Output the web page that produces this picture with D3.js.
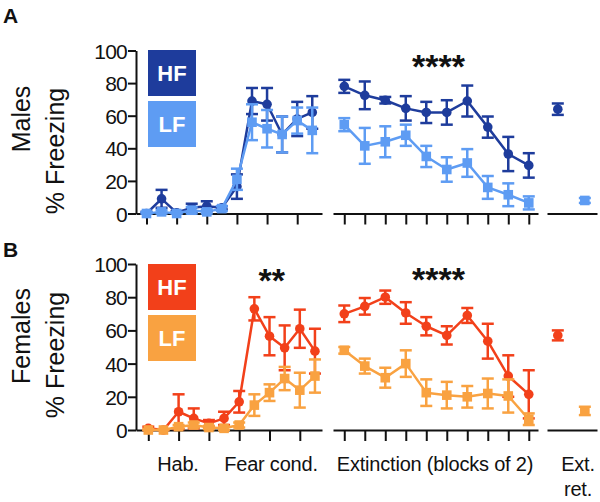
<!DOCTYPE html>
<html><head><meta charset="utf-8">
<script src="https://cdn.jsdelivr.net/npm/d3@7"></script>
<style>
html,body{margin:0;padding:0;background:#fff;}
text{font-family:"Liberation Sans",Arial,sans-serif;}
</style></head>
<body><div id="chart"></div>
<script>
// ---------- data ----------
const yTicks = [0, 20, 40, 60, 80, 100];
const phaseLabels = ["Hab.", "Fear cond.", "Extinction (blocks of 2)", "Ext.", "ret."];
const groups = ["HF", "LF"];
const rowLabels = ["Males", "Females"];
const panelLetters = ["A", "B"];
const stars = [["", "****"], ["**", "****"]];

// Males: habituation + fear conditioning (12 trials)
const maleHF_cond     = [0, 9, 0.5, 3.5, 4.5, 3.5, 16.5, 69, 67, 48.5, 58, 62];
const maleHF_condErr  = [1, 5.5, 1, 2.5, 3, 1, 7.5, 8, 10, 11, 10.5, 10];
const maleLF_cond     = [0, 1, 0, 2, 1, 3, 21, 56, 52, 48.5, 57, 51];
const maleLF_condErr  = [1, 1, 1, 2, 1.5, 1.5, 6.5, 11, 11.5, 11, 8, 14];
// Males: extinction (10 blocks)
const maleHF_ext      = [78, 72.5, 69.5, 64.5, 62, 62, 69, 53, 36.5, 29.5];
const maleHF_extErr   = [4, 8.5, 2, 7.5, 6.5, 7.5, 9.5, 6.5, 10.5, 7.5];
const maleLF_ext      = [54.5, 41.5, 44, 48, 35, 27, 31, 16, 11.5, 6.5];
const maleLF_extErr   = [4, 11, 9.5, 6.5, 6.5, 7.5, 8.5, 7, 7, 4];
// Males: extinction retrieval
const maleHF_ret = [64], maleHF_retErr = [3.5];
const maleLF_ret = [8],  maleLF_retErr = [1.5];

// Females
const femaleHF_cond    = [1, 0, 11, 7, 4, 7, 17, 73, 56.5, 49.5, 61, 47.5];
const femaleHF_condErr = [1, 0.5, 10.5, 6, 2, 4, 6.5, 7, 11.5, 13.5, 11.5, 13.5];
const femaleLF_cond    = [0, 0, 2, 3, 1.5, 1, 3, 15, 22.5, 31, 24, 32.5];
const femaleLF_condErr = [0.5, 0.5, 1, 1.5, 1, 1, 1.5, 6.5, 5, 7, 10.5, 10];
const femaleHF_ext     = [70, 74.5, 80, 70.5, 62.5, 57, 69, 53.5, 32.5, 21.5];
const femaleHF_extErr  = [5, 5, 4, 6.5, 5.5, 5.5, 4.5, 10.5, 12.5, 14.5];
const femaleLF_ext     = [48, 38.5, 31.5, 40, 22.5, 21, 20, 22, 20.5, 6.5];
const femaleLF_extErr  = [2, 4.5, 6, 8, 8, 8, 6.5, 9, 10, 3.5];
const femaleHF_ret = [57],   femaleHF_retErr = [3];
const femaleLF_ret = [11.5], femaleLF_retErr = [2.5];

// ---------- styling / layout ----------
const colors = [["#1e3c9c", "#5e9cf3"], ["#f2401a", "#f9a241"]];
const W = 600, H = 502;

const rows = [
  { y0: 213.5, y1: 50.5, condX: [136, 146.5, 15.07, 322],
    series: [
      {cond: maleHF_cond, condErr: maleHF_condErr, ext: maleHF_ext, extErr: maleHF_extErr, ret: maleHF_ret, retErr: maleHF_retErr},
      {cond: maleLF_cond, condErr: maleLF_condErr, ext: maleLF_ext, extErr: maleLF_extErr, ret: maleLF_ret, retErr: maleLF_retErr}
    ],
    rowLabelY: 119, axisLabelY: 151, letterY: 23, legendTop: 50 },
  { y0: 430, y1: 264, condX: [136, 148.3, 15.15, 322],
    series: [
      {cond: femaleHF_cond, condErr: femaleHF_condErr, ext: femaleHF_ext, extErr: femaleHF_extErr, ret: femaleHF_ret, retErr: femaleHF_retErr},
      {cond: femaleLF_cond, condErr: femaleLF_condErr, ext: femaleLF_ext, extErr: femaleLF_extErr, ret: femaleLF_ret, retErr: femaleLF_retErr}
    ],
    rowLabelY: 336, axisLabelY: 355, letterY: 257, legendTop: 264 }
];

const svg = d3.select("#chart").append("svg").attr("width", W).attr("height", H)
  .style("background", "#fff");

function drawSeries(g, x, y, vals, errs, color, shape) {
  const line = d3.line().x((d, i) => x(i)).y(d => y(d));
  if (vals.length > 1) {
    g.append("path").datum(vals).attr("d", line)
      .attr("fill", "none").attr("stroke", color).attr("stroke-width", 2.5)
      .attr("stroke-linejoin", "round");
  }
  const cap = 6;
  vals.forEach((v, i) => {
    const e = errs[i];
    const lo = Math.max(0, v - e), hi = v + e;
    const eg = g.append("g").attr("stroke", color).attr("stroke-width", 2.5);
    eg.append("line").attr("x1", x(i)).attr("x2", x(i)).attr("y1", y(lo)).attr("y2", y(hi));
    eg.append("line").attr("x1", x(i) - cap).attr("x2", x(i) + cap).attr("y1", y(hi)).attr("y2", y(hi));
    eg.append("line").attr("x1", x(i) - cap).attr("x2", x(i) + cap).attr("y1", y(lo)).attr("y2", y(lo));
  });
  vals.forEach((v, i) => {
    if (shape === "circle") {
      g.append("circle").attr("cx", x(i)).attr("cy", y(v)).attr("r", 4.8).attr("fill", color);
    } else {
      g.append("rect").attr("x", x(i) - 4.8).attr("y", y(v) - 4.8)
        .attr("width", 9.6).attr("height", 9.6).attr("fill", color);
    }
  });
}

function styleAxis(ax) {
  ax.selectAll("path,line").attr("stroke", "#111").attr("stroke-width", 2);
  ax.selectAll("text").attr("fill", "#111").style("font-family", "'Liberation Sans',Arial,sans-serif");
}

rows.forEach((r, ri) => {
  const g = svg.append("g");
  const y = d3.scaleLinear().domain([0, 100]).range([r.y0, r.y1]);
  const [cx0, cFirst, cStep, cx1] = r.condX;
  const xCond = d3.scaleLinear().domain([(cx0 - cFirst) / cStep, (cx1 - cFirst) / cStep]).range([cx0, cx1]);
  const xExt = d3.scaleLinear().domain([-0.55, 9.45]).range([333, 538]);
  const xRet = d3.scaleLinear().domain([-0.4, 1.45]).range([547, 597]);

  // y axis
  const ya = g.append("g").attr("transform", `translate(${cx0},0)`)
    .call(d3.axisLeft(y).tickValues(yTicks).tickSize(8).tickSizeOuter(0).tickPadding(1).tickFormat(d3.format("d")));
  styleAxis(ya);
  ya.selectAll("text").attr("font-size", 21).attr("dy", "0.36em").style("letter-spacing", "-0.8px");

  // x axes
  const xa1 = g.append("g").attr("transform", `translate(0,${r.y0})`)
    .call(d3.axisBottom(xCond).tickValues([0, 2, 4, 6, 8, 10]).tickSize(11).tickSizeOuter(0).tickFormat(""));
  styleAxis(xa1);
  const xa2 = g.append("g").attr("transform", `translate(0,${r.y0})`)
    .call(d3.axisBottom(xExt).tickValues(d3.range(10)).tickSize(11).tickSizeOuter(0).tickFormat(""));
  styleAxis(xa2);
  const xa3 = g.append("g").attr("transform", `translate(0,${r.y0})`)
    .call(d3.axisBottom(xRet).tickValues([]).tickSizeOuter(0));
  styleAxis(xa3);

  // series
  r.series.forEach((s, si) => {
    const col = colors[ri][si];
    const shape = si === 0 ? "circle" : "square";
    drawSeries(g, xCond, y, s.cond, s.condErr, col, shape);
    drawSeries(g, xExt, y, s.ext, s.extErr, col, shape);
    drawSeries(g, i => xRet(si), y, s.ret, s.retErr, col, shape);
  });

  // legend boxes
  groups.forEach((gn, gi) => {
    const top = r.legendTop + gi * 51;
    g.append("rect").attr("x", 148).attr("y", top).attr("width", 48).attr("height", 46)
      .attr("fill", colors[ri][gi]);
    g.append("text").attr("x", 172).attr("y", top + 31).attr("text-anchor", "middle")
      .attr("fill", "#fff").attr("font-weight", "bold").attr("font-size", 22).text(gn);
  });

  // axis labels
  g.append("text").attr("transform", `translate(30,${r.rowLabelY}) rotate(-90)`)
    .attr("text-anchor", "middle").attr("font-size", 25).attr("fill", "#111")
    .text(rowLabels[ri]);
  g.append("text").attr("transform", `translate(64,${r.axisLabelY}) rotate(-90)`)
    .attr("text-anchor", "middle").attr("font-size", 25).attr("fill", "#111")
    .text("% Freezing");

  // panel letter
  g.append("text").attr("x", 3).attr("y", r.letterY).attr("font-size", 21)
    .attr("font-weight", "bold").attr("fill", "#111").text(panelLetters[ri]);

  // significance stars
  const starY = r.y1 + 27;
  if (stars[ri][0]) g.append("text").attr("x", xCond(8.15)).attr("y", starY + 1).attr("text-anchor", "middle")
    .attr("font-size", 34).attr("font-weight", "bold").attr("fill", "#111").text(stars[ri][0]);
  g.append("text").attr("x", xExt(4.6)).attr("y", starY).attr("text-anchor", "middle")
    .attr("font-size", 34).attr("font-weight", "bold").attr("fill", "#111").text(stars[ri][1]);
});

// phase labels along the bottom
const bx = [178, 271, 435, 578, 578];
const by = [471, 471, 471, 471, 496];
phaseLabels.forEach((t, i) => {
  svg.append("text").attr("x", bx[i]).attr("y", by[i]).attr("text-anchor", "middle")
    .attr("font-size", 20).attr("fill", "#111").style("letter-spacing", "-0.2px").text(t);
});
</script>
</body></html>
